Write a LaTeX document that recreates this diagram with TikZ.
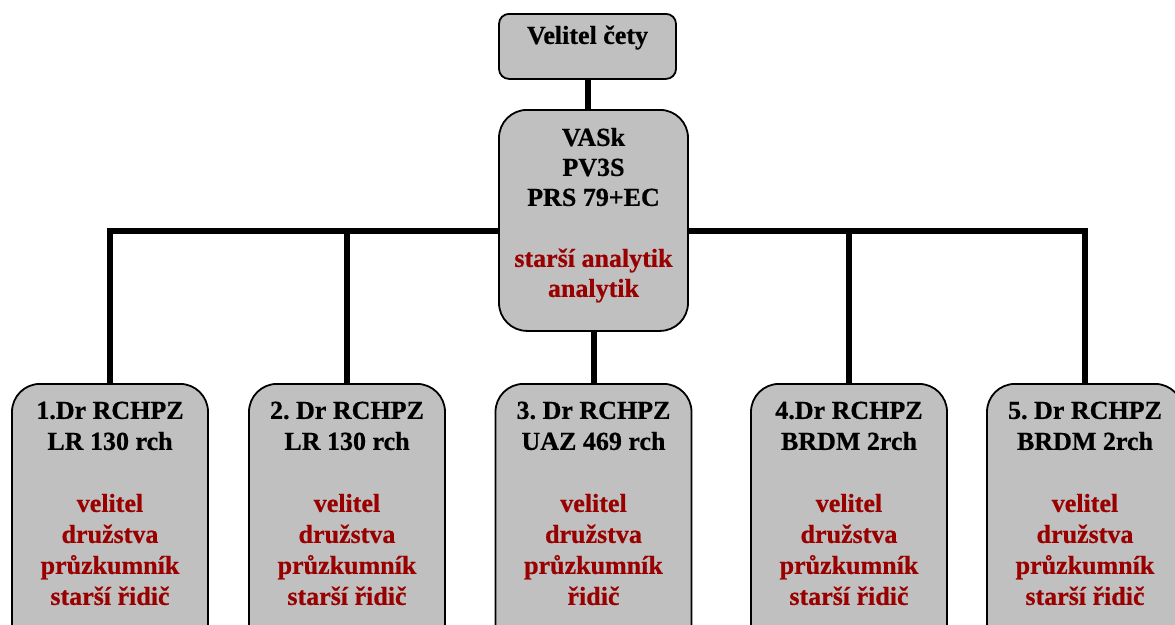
\documentclass[tikz,border=0pt]{standalone}
\usepackage{fontspec}
\setmainfont{Liberation Serif}[BoldFeatures={FakeBold=0.6}]
\usetikzlibrary{backgrounds}
\definecolor{boxgray}{RGB}{192,192,192}
\definecolor{rolered}{RGB}{153,0,0}
\frenchspacing

\begin{document}
\begin{tikzpicture}[x=1pt, y=-1pt,
	unit/.style = {draw, line width=1.8pt, fill=boxgray, inner sep=0pt, anchor=north, align=flush center, font=\bfseries\fontsize{26}{30}\selectfont},
	squad/.style = {unit, rounded corners=28pt, text width=196pt, text height=35pt, text depth=260pt, font=\bfseries\fontsize{26}{31}\selectfont},
	link/.style = {line width=6pt}]
		\useasboundingbox (0,0) rectangle (1175,624);
		% Velitel a VASk
		\node[unit, rounded corners=10pt, text width=177pt, text height=30pt, text depth=35pt] (velitel) at (587.5,13) {Velitel čety};
		\node[unit, rounded corners=28pt, text width=189pt, text height=36pt, text depth=185pt] (vask) at (593.5,109) {VASk\\PV3S\\PRS 79+EC\\[31pt]\color{rolered}starší analytik\\analytik};
		% Druzstva
		\node[squad] (d1) at (110,383) {1.Dr RCHPZ\\LR 130 rch\\[31pt]\color{rolered}velitel\\družstva\\průzkumník\\starší řidič};
		\node[squad] (d2) at (347,383) {2. Dr RCHPZ\\LR 130 rch\\[31pt]\color{rolered}velitel\\družstva\\průzkumník\\starší řidič};
		\node[squad] (d3) at (593.5,383) {3. Dr RCHPZ\\UAZ 469 rch\\[31pt]\color{rolered}velitel\\družstva\\průzkumník\\řidič};
		\node[squad] (d4) at (849,383) {4.Dr RCHPZ\\BRDM 2rch\\[31pt]\color{rolered}velitel\\družstva\\průzkumník\\starší řidič};
		\node[squad] (d5) at (1085,383) {5. Dr RCHPZ\\BRDM 2rch\\[31pt]\color{rolered}velitel\\družstva\\průzkumník\\starší řidič};
		% Spoje
		\coordinate (bus) at (0,231);
		\begin{pgfonlayer}{background}
		\draw[link] (velitel.south) -- (velitel.south |- vask.north);	% velitel - VASk
		\draw[link] (d1.north) -- (d1.north |- bus) -- (d5.north |- bus) -- (d5.north);	% d1 - d5
		\draw[link] (d2.north) -- (d2.north |- bus);	% d2
		\draw[link] (d4.north) -- (d4.north |- bus);	% d4
		\draw[link] (vask.south) -- (d3.north);	% VASk - d3
		\end{pgfonlayer}
\end{tikzpicture}
\end{document}
